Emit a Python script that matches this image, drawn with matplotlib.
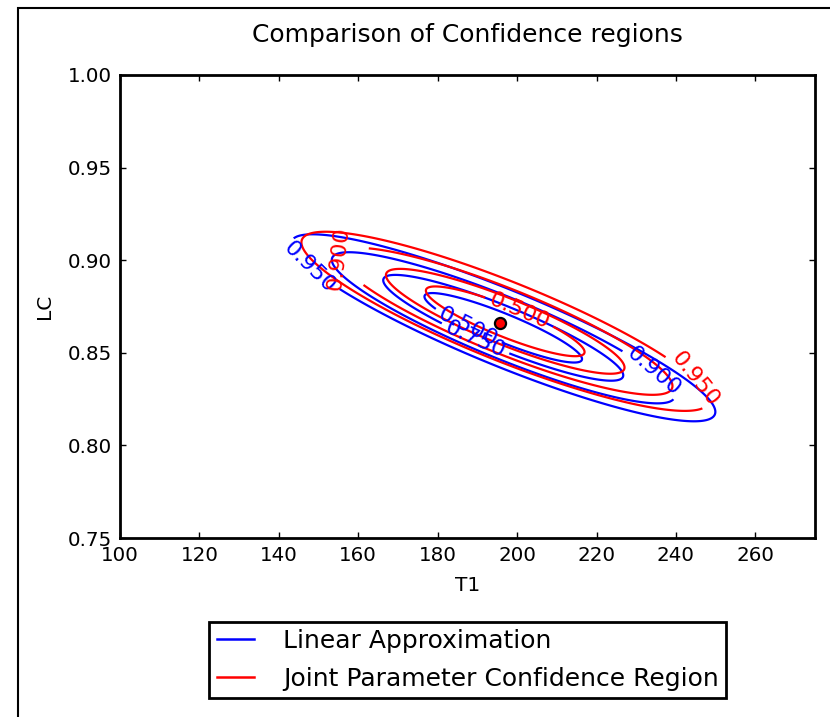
import numpy as np
import matplotlib
matplotlib.use("Agg")
import matplotlib.pyplot as plt
from matplotlib.lines import Line2D
from matplotlib.patches import Rectangle

# ---- data ----
opt_T1 = 195.7          # best estimate (red dot)
opt_LC = 0.866
conf_levels = [0.5, 0.75, 0.9, 0.95]

# linear approximation (ellipse) parameters
lin_center = (196.5, 0.8635)
lin_sd_T1 = 15.7
lin_sd_LC = 0.01484
lin_rho = -0.899
lin_dof = 5

# joint (nonlinear) region parameters
jnt_center = (197.0, 0.867)
jnt_sd_T1 = 16.0
jnt_sd_LC = 0.01508
jnt_rho = -0.8805
jnt_dof = 6

x_ticks = [100, 120, 140, 160, 180, 200, 220, 240, 260]
y_ticks = [0.75, 0.80, 0.85, 0.90, 0.95, 1.00]

T1_grid = np.linspace(100, 275, 500)
LC_grid = np.linspace(0.75, 1.0, 500)
TT, LL = np.meshgrid(T1_grid, LC_grid)


def conf_field(center, sdx, sdy, rho, dof):
    dx = (TT - center[0]) / sdx
    dy = (LL - center[1]) / sdy
    q = (dx * dx - 2 * rho * dx * dy + dy * dy) / (1 - rho ** 2)
    return 1 - (1 + q / dof) ** (-dof / 2)


Z_lin = conf_field(lin_center, lin_sd_T1, lin_sd_LC, lin_rho, lin_dof)
Z_jnt = conf_field(jnt_center, jnt_sd_T1, jnt_sd_LC, jnt_rho, jnt_dof)

fig = plt.figure(figsize=(8.3, 7.17), dpi=100)
ax = fig.add_axes([120 / 830, 1 - 538 / 717, (815 - 120) / 830, (538 - 75) / 717])

cs_b = ax.contour(TT, LL, Z_lin, levels=conf_levels, colors='b', linewidths=1.6)
cs_r = ax.contour(TT, LL, Z_jnt, levels=conf_levels, colors='r', linewidths=1.6)

ax.set_xlim(100, 275)
ax.set_ylim(0.75, 1.0)


def px2data(px, py):
    return (100 + (px - 120) / (695 / 175), 1 - (py - 75) / (463 / 0.25))


def snap(cs, lev, p):
    """vertex of contour `lev` nearest (in display space) to point p"""
    i = list(cs.levels).index(lev)
    segs = [s for s in cs.allsegs[i] if len(s)]
    v = np.vstack(segs)
    vd = ax.transData.transform(v)
    pd = ax.transData.transform([p])[0]
    k = np.argmin(((vd - pd) ** 2).sum(1))
    return tuple(v[k])


lab_fs = 16
blue_pos = {0.95: px2data(312, 265), 0.9: px2data(655, 370),
            0.75: px2data(477, 334), 0.5: px2data(470, 322)}
red_pos = {0.9: px2data(340, 258), 0.5: px2data(518, 315), 0.95: px2data(697, 377)}
ax.clabel(cs_b, levels=conf_levels, manual=[snap(cs_b, l, p) for l, p in blue_pos.items()],
          fmt='%.3f', fontsize=lab_fs, inline=True)
ax.clabel(cs_r, levels=conf_levels, manual=[snap(cs_r, l, p) for l, p in red_pos.items()],
          fmt='%.3f', fontsize=lab_fs, inline=True)

ax.plot([opt_T1], [opt_LC], 'o', color='r', markeredgecolor='k', markersize=8, markeredgewidth=1.6)

ax.set_xticks(x_ticks)
ax.set_yticks(y_ticks)
ax.set_xticklabels([str(v) for v in x_ticks])
ax.set_yticklabels(['%.2f' % v for v in y_ticks])
ax.tick_params(direction='in', top=True, right=True, length=4.5, width=1, labelsize=14.3, pad=6)
for s in ax.spines.values():
    s.set_linewidth(2)
ax.set_xlabel('T1', fontsize=14.5, labelpad=8)
ax.set_ylabel('LC', fontsize=14.5, labelpad=10)
ax.set_title('Comparison of Confidence regions', fontsize=18, pad=24)

handles = [Line2D([], [], color='b', lw=1.8), Line2D([], [], color='r', lw=1.8)]
leg = fig.legend(handles, ['Linear Approximation', 'Joint Parameter Confidence Region'],
                 loc='center', bbox_to_anchor=(467.5 / 830, 1 - 660 / 717),
                 fontsize=18, fancybox=False, edgecolor='k', framealpha=1,
                 handlelength=1.5, handletextpad=1.15, borderpad=0.3, labelspacing=0.55)
leg.get_frame().set_linewidth(2)

fig.add_artist(Rectangle((18 / 830, -0.1), 1.2, 0.1 + (1 - 8 / 717), transform=fig.transFigure,
                         fill=False, edgecolor='k', lw=1.5, clip_on=False))

fig.savefig('out.png', dpi=100)
